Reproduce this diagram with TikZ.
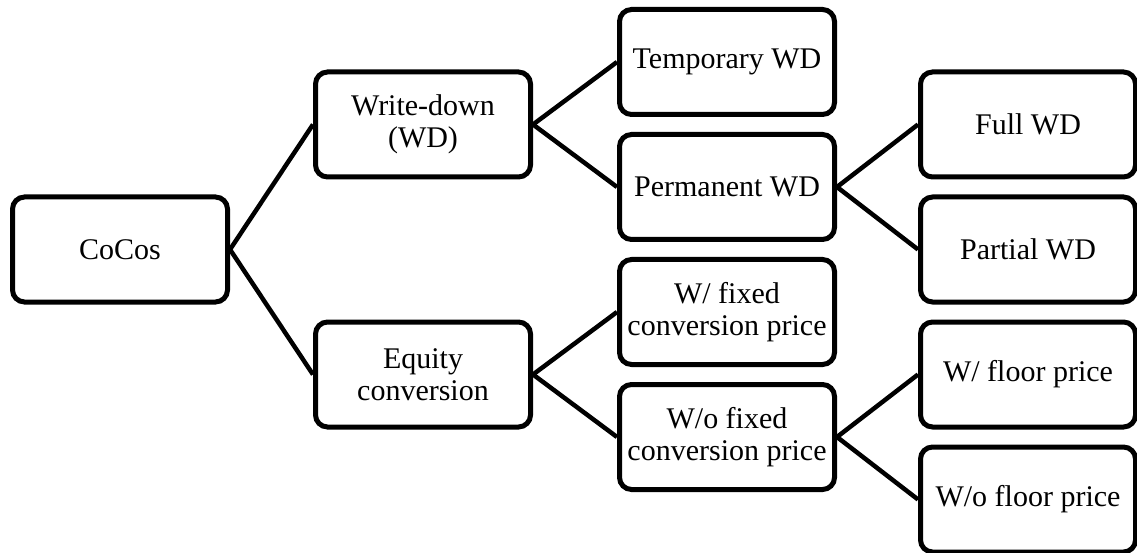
\documentclass[tikz,border=0pt]{standalone}
\usepackage{fontspec}
\setmainfont{Liberation Serif}
\begin{document}
\begin{tikzpicture}[x=1pt,y=-1pt,
  box/.style={draw=black,line width=5pt,rounded corners=12pt,fill=white,
    minimum width=215pt,minimum height=105pt,inner sep=0pt,align=center,
    font=\fontsize{30}{31.5}\selectfont},
  link/.style={draw=black,line width=4.5pt}]
\useasboundingbox (0,0) rectangle (1137,553);
\node[box] (cocos) at (120,249.5) {CoCos};
\node[box] (wd) at (423,124.5) {Write-down\\(WD)};
\node[box] (eq) at (423,374.5) {Equity\\conversion};
\node[box] (temp) at (727,62) {Temporary WD};
\node[box] (perm) at (727,187) {Permanent WD};
\node[box] (wfix) at (727,312) {W/ fixed\\conversion price};
\node[box] (wofix) at (727,437) {W/o fixed\\conversion price};
\node[box] (full) at (1028,124.5) {Full WD};
\node[box] (part) at (1028,249.5) {Partial WD};
\node[box] (wfl) at (1028,374.5) {W/ floor price};
\node[box] (wofl) at (1028,499.5) {W/o floor price};
\draw[link] (cocos.east) -- (wd.west);
\draw[link] (cocos.east) -- (eq.west);
\draw[link] (wd.east) -- (temp.west);
\draw[link] (wd.east) -- (perm.west);
\draw[link] (eq.east) -- (wfix.west);
\draw[link] (eq.east) -- (wofix.west);
\draw[link] (perm.east) -- (full.west);
\draw[link] (perm.east) -- (part.west);
\draw[link] (wofix.east) -- (wfl.west);
\draw[link] (wofix.east) -- (wofl.west);
\end{tikzpicture}
\end{document}
